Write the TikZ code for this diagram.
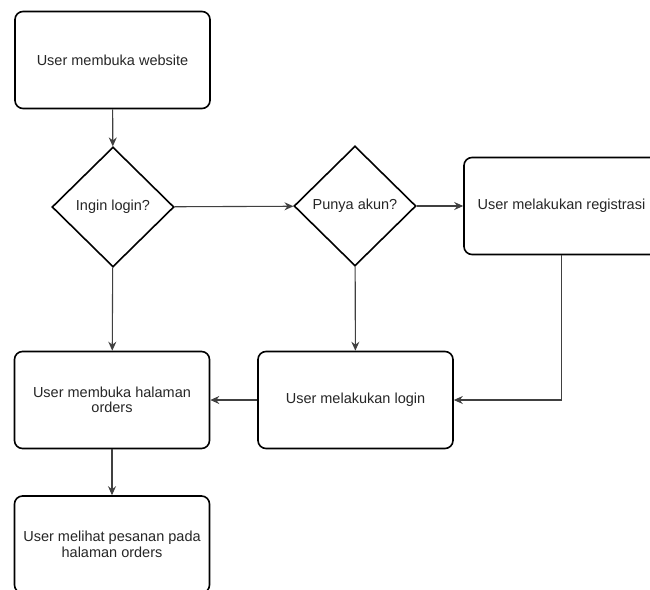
\documentclass[tikz,border=0pt]{standalone}
\usepackage{fontspec}
\setmainfont{Liberation Sans}
\usepackage{tikz}
\usetikzlibrary{shapes,arrows,arrows.meta,backgrounds,positioning}
\tikzset{
  flownode/.style = {align=center, inner sep=2pt, text centered,
    font=\fontsize{14.5}{15.5}\selectfont, text=black!85},
  fl_box/.style = {flownode, rectangle, rounded corners=8pt, draw=black,
    line width=1.6pt, fill=white, minimum width=195pt,
    minimum height=97pt},% kotak proses
  fl_dec/.style = {flownode, diamond, draw=black, line width=1.6pt,
    fill=white, minimum width=122pt, minimum height=120pt,
    inner sep=0pt},% belah ketupat keputusan
  fl_arr/.style = {->, draw=black!75, line width=1.1pt}% panah
}
\begin{document}
\begin{tikzpicture}[x=1pt,y=-1pt,>={Stealth[length=9pt,width=8pt,inset=3pt]}]
  \useasboundingbox (0,0) rectangle (650,589);
  \node [fl_box] (web) at (112.5,60) {User membuka website};
  \node [fl_dec] (login_q) at (113,207) {Ingin login?};
  \node [fl_dec] (akun_q) at (355,206) {Punya akun?};
  \node [fl_box] (regis) at (561.5,206) {User melakukan registrasi};
  \node [fl_box] (login) at (355.5,400) {User melakukan login};
  \node [fl_box] (orders) at (112,400) {User membuka halaman\\orders};
  \node [fl_box] (pesanan) at (112,544.5) {User melihat pesanan pada\\halaman orders};
  % panah
  \draw [fl_arr] (web) -- (login_q);
  \draw [fl_arr] (login_q) -- (akun_q);
  \draw [fl_arr] (akun_q) -- (regis);
  \draw [fl_arr] (login_q) -- (orders);
  \draw [fl_arr] (akun_q) -- (login);
  \draw [fl_arr] (regis.south) |- (login.east);
  \draw [fl_arr] (login) -- (orders);
  \draw [fl_arr] (orders) -- (pesanan);
\end{tikzpicture}
\end{document}
